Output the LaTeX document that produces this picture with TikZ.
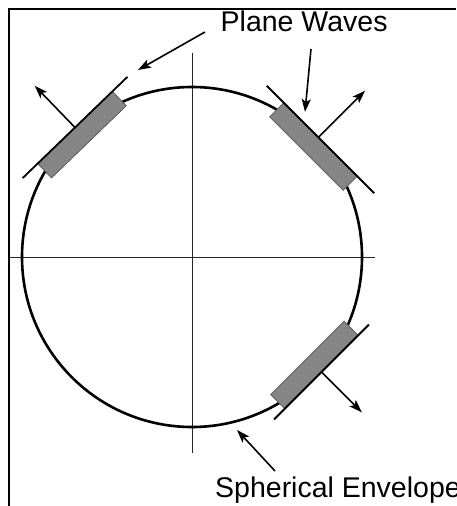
\documentclass[tikz,border=0pt]{standalone}
\usepackage{fontspec}
\setmainfont{Liberation Sans}
\usetikzlibrary{arrows.meta}
\begin{document}
\begin{tikzpicture}[x=1pt,y=1pt,
  lbl/.style={inner sep=0pt, anchor=base west, font=\fontsize{28.5}{31}\selectfont},
  arr/.style={line width=1.6pt, -{Stealth[length=13pt,width=9pt,inset=3pt]}},
  wavebox/.style={fill=black!48, draw=black!70, line width=0.6pt},
  waveline/.style={line width=1.8pt},
  axis/.style={line width=0.9pt, draw=black!85},
  env/.style={line width=2.6pt},
  frame/.style={line width=2pt}]
\useasboundingbox (0,0) rectangle (456,-506);
\draw[frame] (9,-506) -- (9,-8.5) -- (456,-8.5);
\coordinate (C) at (192,-257);
\coordinate (axL) at (10,-257);
\coordinate (axR) at (375,-257);
\coordinate (axT) at (192,-53);
\coordinate (axB) at (192,-453);
\draw[axis] (axL) -- (axR);
\draw[axis] (axT) -- (axB);
\draw[env] (C) circle (170);
% top-left plane wave
\begin{scope}[shift={(75,-127.5)}, rotate=134]
  \draw[wavebox] (-20,-52) rectangle (0,52);
  \coordinate (l1a) at (0,-73); \coordinate (l1b) at (0,73);
  \draw[waveline] (l1a) -- (l1b);
  \coordinate (a1s) at (0,0); \coordinate (a1e) at (58,0);
  \draw[arr] (a1s) -- (a1e);
\end{scope}
% top-right plane wave
\begin{scope}[shift={(320.5,-139.5)}, rotate=45]
  \draw[wavebox] (-20,-52) rectangle (0,52);
  \coordinate (l2a) at (0,-76); \coordinate (l2b) at (0,76);
  \draw[waveline] (l2a) -- (l2b);
  \coordinate (a2s) at (0,3); \coordinate (a2e) at (66,3);
  \draw[arr] (a2s) -- (a2e);
\end{scope}
% bottom-right plane wave
\begin{scope}[shift={(321.5,-372)}, rotate=-45]
  \draw[wavebox] (-20,-52) rectangle (0,52);
  \coordinate (l3a) at (0,-67); \coordinate (l3b) at (0,67);
  \draw[waveline] (l3a) -- (l3b);
  \coordinate (a3s) at (0,0); \coordinate (a3e) at (57,0);
  \draw[arr] (a3s) -- (a3e);
\end{scope}
% labels
\node[lbl] (pw) at (220.5,-31.7) {Plane Waves};
\coordinate (p1s) at (205,-32); \coordinate (p1e) at (138,-70);
\coordinate (p2s) at (311,-49); \coordinate (p2e) at (305,-112);
\draw[arr] (p1s) -- (p1e);
\draw[arr] (p2s) -- (p2e);
\node[lbl] (se) at (215,-497) {Spherical Envelope};
\coordinate (s1s) at (275,-471); \coordinate (s1e) at (237,-430);
\draw[arr] (s1s) -- (s1e);
\end{tikzpicture}
\end{document}
